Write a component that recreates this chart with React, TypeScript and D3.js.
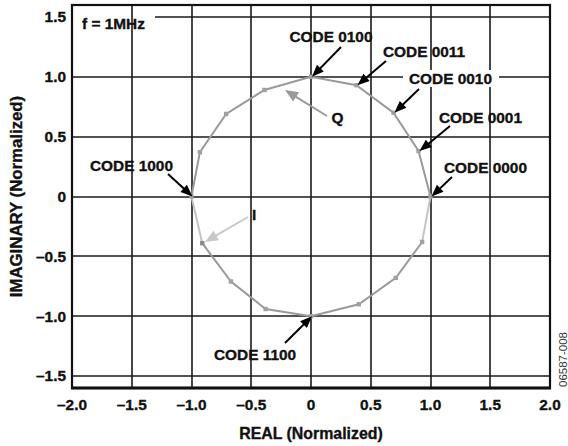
import React from "react";
import * as d3 from "d3";

const W = 568;
const H = 446;

// Measured points (REAL, IMAGINARY), counter-clockwise from CODE 0000
const realVals = [1.0, 0.9, 0.69, 0.38, 0.0, -0.39, -0.71, -0.93, -1.0, -0.91, -0.67, -0.38, 0.0, 0.4, 0.71, 0.93];
const imagVals = [0.0, 0.38, 0.7, 0.93, 1.0, 0.89, 0.69, 0.37, 0.0, -0.39, -0.71, -0.94, -1.0, -0.9, -0.68, -0.38];

const xTicks = [-2.0, -1.5, -1.0, -0.5, 0, 0.5, 1.0, 1.5, 2.0];
const yTicks = [-1.5, -1.0, -0.5, 0, 0.5, 1.0, 1.5];
const xTickLabels = ["\u20132.0", "\u20131.5", "\u20131.0", "\u20130.5", "0", "0.5", "1.0", "1.5", "2.0"];
const yTickLabels = ["\u20131.5", "\u20131.0", "\u20130.5", "0", "0.5", "1.0", "1.5"];

// Code labels and the point index they point to
const codeNames = ["CODE 0100", "CODE 0011", "CODE 0010", "CODE 0001", "CODE 0000", "CODE 1000", "CODE 1100"];
const codeIdx = [4, 3, 2, 1, 0, 8, 12];

const FONT = "'Liberation Sans', Arial, Helvetica, sans-serif";
const FS = 15.4;

const x = d3.scaleLinear().domain([-2, 2]).range([72, 550]);
const y = d3.scaleLinear().domain([-1.6, 1.6]).range([388, 5]);

// layout for labels: [textX, baseline, anchor, tailX, tailY, box]
const labelLayout: [number, number, string, number, number, boolean][] = [
  [331, 42.3, "middle", 341, 47, false],
  [383, 56.5, "start", 386, 61, false],
  [409, 84, "start", 419, 89, true],
  [439, 123, "start", 450, 126, false],
  [444, 172.5, "start", 452, 177, false],
  [90, 170.5, "start", 168, 174, false],
  [214, 360, "start", 285, 343, false],
];

function Arrow({ x1, y1, x2, y2, color, head = 12, hw = 4.8, sw = 2 }: any) {
  const dx = x2 - x1;
  const dy = y2 - y1;
  const L = Math.hypot(dx, dy);
  const ux = dx / L;
  const uy = dy / L;
  const bx = x2 - ux * head;
  const by = y2 - uy * head;
  const px = -uy;
  const py = ux;
  const pts = `${x2},${y2} ${bx + px * hw},${by + py * hw} ${bx - px * hw},${by - py * hw}`;
  return (
    <g>
      <line x1={x1} y1={y1} x2={bx + ux * 2} y2={by + uy * 2} stroke={color} strokeWidth={sw} />
      <polygon points={pts} fill={color} />
    </g>
  );
}

const txt = { fontWeight: "bold" as const, fill: "#111", stroke: "#111", strokeWidth: 0.35 };

export default function App() {
  const pts = realVals.map((r, i) => [x(r), y(imagVals[i])] as [number, number]);
  const line = d3.line();
  const mainA = pts.slice(0, 9); // 0..8
  const mainB = pts.slice(9, 16); // 9..15
  const light1 = [pts[0], pts[15]];
  const light2 = [pts[8], pts[9]];
  const px = (v: number) => Math.round(v);

  return (
    <svg width={W} height={H} style={{ position: "absolute", left: 0, top: 0, background: "#fff" }} fontFamily={FONT}>
      <rect x={0} y={0} width={W} height={H} fill="#fff" />
      {/* horizontal gridlines */}
      {yTicks.map((t) => (
        <line key={"h" + t} x1={x(-2)} x2={x(2)} y1={px(y(t))} y2={px(y(t))} stroke="#1a1a1a" strokeWidth={1.6} />
      ))}
      {/* f=1MHz box covers horizontal gridline */}
      <rect x={73} y={10} width={82} height={12} fill="#fff" />
      {/* vertical gridlines */}
      {xTicks.slice(1, -1).map((t) => (
        <line key={"v" + t} x1={px(x(t))} x2={px(x(t))} y1={y(1.6)} y2={y(-1.6)} stroke="#1a1a1a" strokeWidth={1.6} />
      ))}
      {/* frame */}
      <rect x={x(-2)} y={y(1.6)} width={x(2) - x(-2)} height={y(-1.6) - y(1.6)} fill="none" stroke="#111" strokeWidth={2.2} />
      <line x1={x(-2) - 1} x2={x(2) + 1} y1={y(-1.6)} y2={y(-1.6)} stroke="#111" strokeWidth={2.8} />

      {/* text boxes */}
      {labelLayout.map((l, i) =>
        l[5] ? <rect key={"b" + i} x={l[0] - 6} y={l[1] - 14} width={96} height={17} fill="#fff" /> : null
      )}

      {/* curves */}
      <path d={line(mainA) || ""} fill="none" stroke="#9a9a9a" strokeWidth={2} />
      <path d={line(mainB) || ""} fill="none" stroke="#9a9a9a" strokeWidth={2} />
      <path d={line(light1) || ""} fill="none" stroke="#c4c4c4" strokeWidth={2} />
      <path d={line(light2) || ""} fill="none" stroke="#c4c4c4" strokeWidth={2} />
      {pts.map((p, i) => (
        <rect key={"m" + i} x={p[0] - 2.2} y={p[1] - 2.2} width={4.4} height={4.4} fill={i === 9 ? "#8c8c8c" : "#a0a0a0"} />
      ))}

      {/* tick labels */}
      {xTicks.map((t, i) => (
        <text key={"xt" + t} x={x(t)} y={410} textAnchor="middle" fontSize={FS} {...txt}>
          {xTickLabels[i]}
        </text>
      ))}
      {yTicks.map((t, i) => (
        <text key={"yt" + t} x={66} y={y(t) + 5.4} textAnchor="end" fontSize={FS} {...txt}>
          {yTickLabels[i]}
        </text>
      ))}

      {/* axis titles */}
      <text x={311} y={439} textAnchor="middle" fontSize={15.9} {...txt}>
        REAL (Normalized)
      </text>
      <text transform={`translate(22,${y(0)}) rotate(-90)`} textAnchor="middle" fontSize={16.8} {...txt}>
        IMAGINARY (Normalized)
      </text>

      <text x={82} y={29} fontSize={FS} {...txt}>f = 1MHz</text>

      {/* code labels */}
      {codeNames.map((c, i) => {
        const l = labelLayout[i];
        const p = pts[codeIdx[i]];
        return (
          <g key={c}>
            <text x={l[0]} y={l[1]} textAnchor={l[2] as any} fontSize={FS} {...txt}>
              {c}
            </text>
            <Arrow x1={l[3]} y1={l[4]} x2={p[0] + 1} y2={p[1]} color="#000" />
          </g>
        );
      })}

      {/* Q and I */}
      <text x={331.5} y={123} fontSize={FS} {...txt}>Q</text>
      <Arrow x1={327} y1={116} x2={285} y2={90} color="#9a9a9a" head={13} hw={5.5} />
      <text x={252} y={220} fontSize={FS} {...txt}>I</text>
      <Arrow x1={248} y1={217} x2={205} y2={242} color="#c8c8c8" head={13} hw={5.5} />

      <text transform={`translate(567,387) rotate(-90)`} fontSize={11.5} fill="#333">06587-008</text>
    </svg>
  );
}
